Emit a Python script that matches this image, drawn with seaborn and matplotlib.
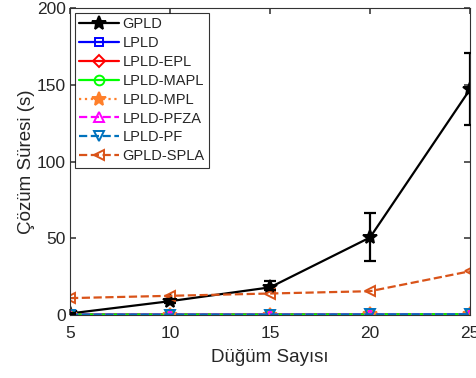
import numpy as np
import pandas as pd
import matplotlib
matplotlib.use("Agg")
import matplotlib.pyplot as plt
import seaborn as sns

nodes = [5, 10, 15, 20, 25]
gpld = [1.0, 9.0, 18.0, 50.5, 147.0]
gpld_err_low = [0.5, 1.5, 2.0, 15.0, 23.0]
gpld_err_high = [0.5, 1.5, 4.0, 16.0, 24.0]
lpld = [0.3, 0.3, 0.3, 0.4, 0.5]
lpld_epl = [0.3, 0.3, 0.3, 0.4, 0.5]
lpld_mapl = [0.3, 0.3, 0.3, 0.4, 0.5]
lpld_mpl = [0.3, 0.3, 0.3, 0.4, 0.5]
lpld_pfza = [0.3, 0.3, 0.3, 0.4, 0.5]
lpld_pf = [0.3, 0.3, 0.3, 0.4, 0.5]
gpld_spla = [11.0, 12.5, 14.0, 15.5, 28.5]

names = ["GPLD", "LPLD", "LPLD-EPL", "LPLD-MAPL", "LPLD-MPL", "LPLD-PFZA", "LPLD-PF", "GPLD-SPLA"]
series = [gpld, lpld, lpld_epl, lpld_mapl, lpld_mpl, lpld_pfza, lpld_pf, gpld_spla]
colors = ["#000000", "#0000FF", "#FF0000", "#00FF00", "#FF7F2A", "#FF00FF", "#0072BD", "#D95319"]
markers = ["*", "s", "D", "o", "*", "^", "v", "<"]
styles = ["-", "-", "-", "-", ":", "--", "--", "--"]
msizes = [10, 6, 6, 7, 10, 7, 7, 7]
fills = ["full", "none", "none", "none", "full", "none", "none", "none"]

sns.set_theme(style="white")
plt.rcParams['font.family'] = ['Liberation Sans', 'DejaVu Sans']

fig = plt.figure(figsize=(4.76, 3.78), dpi=100)
ax = fig.add_axes([70/476, 1 - 315/378, 400/476, 307/378])

for name, vals, c, m, ls, ms, f in zip(names, series, colors, markers, styles, msizes, fills):
    df = pd.DataFrame({"x": nodes, "y": vals})
    sns.lineplot(data=df, x="x", y="y", ax=ax, color=c, marker=m, linestyle=ls,
                 linewidth=1.6, markersize=ms, label=name,
                 markerfacecolor=(c if f == "full" else "none"), markeredgecolor=c,
                 markeredgewidth=1.4)

ax.errorbar(nodes, gpld, yerr=[gpld_err_low, gpld_err_high], fmt="none",
            ecolor="black", elinewidth=1.6, capsize=4, capthick=1.6, zorder=5)

ax.set_xlim(5, 25)
ax.set_ylim(0, 200)
ax.set_xticks(nodes)
ax.set_yticks([0, 50, 100, 150, 200])
ax.set_xlabel("Düğüm Sayısı", fontsize=13.5, color="#262626", labelpad=6)
ax.set_ylabel("Çözüm Süresi (s)", fontsize=13.5, color="#262626", labelpad=1)
ax.tick_params(direction="in", length=4, labelsize=12.5, labelcolor="#262626", color="#444444",
               bottom=True, left=True, top=True, right=True)
ax.tick_params(axis="x", pad=8)
ax.tick_params(axis="y", pad=3)
for s in ax.spines.values():
    s.set_color("#333333")
    s.set_linewidth(0.8)

leg = ax.legend(loc="upper left", fontsize=10.5, frameon=True, fancybox=False,
                edgecolor="black", handlelength=2.7, borderpad=0.3,
                labelspacing=0.33, handletextpad=0.25, borderaxespad=0.35)
leg.get_frame().set_linewidth(0.8)
for t in leg.get_texts():
    t.set_color("#262626")

fig.savefig("out.png", dpi=100)
